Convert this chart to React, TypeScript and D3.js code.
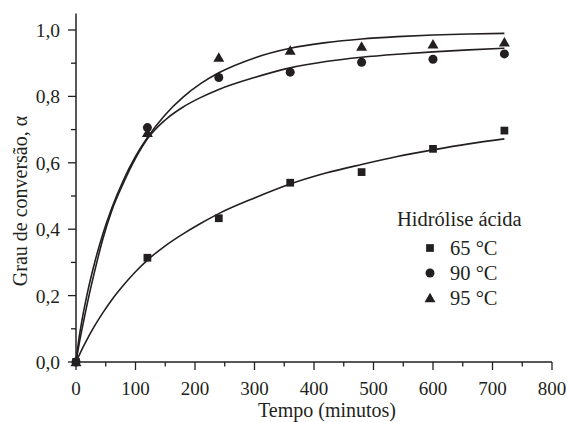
import React from "react";
import * as d3 from "d3";

// measured data points
const times = [0, 120, 240, 360, 480, 600, 720];
const alpha65 = [0, 0.314, 0.433, 0.54, 0.572, 0.642, 0.697];
const alpha90 = [0, 0.706, 0.857, 0.873, 0.903, 0.912, 0.928];
const alpha95 = [0, 0.69, 0.917, 0.938, 0.95, 0.957, 0.963];

// fitted curves
const curveT = [0, 5, 10, 20, 30, 45, 60, 80, 100, 120, 150, 180, 210, 240, 300, 360, 420, 480, 540, 600, 660, 720];
const fit65 = [0, 0.019, 0.038, 0.073, 0.105, 0.148, 0.187, 0.232, 0.272, 0.307, 0.35, 0.386, 0.418, 0.447, 0.494, 0.536, 0.569, 0.595, 0.619, 0.639, 0.657, 0.672];
const fit90 = [0, 0.052, 0.098, 0.185, 0.263, 0.37, 0.455, 0.54, 0.613, 0.672, 0.729, 0.768, 0.797, 0.821, 0.857, 0.886, 0.905, 0.918, 0.927, 0.934, 0.94, 0.945];
const fit95 = [0, 0.071, 0.125, 0.215, 0.29, 0.385, 0.463, 0.549, 0.619, 0.676, 0.745, 0.798, 0.839, 0.871, 0.916, 0.945, 0.962, 0.973, 0.98, 0.985, 0.988, 0.99];

const xTicks = [0, 100, 200, 300, 400, 500, 600, 700, 800];
const xMinor = [50, 150, 250, 350, 450, 550, 650, 750];
const yTicks = [0, 0.2, 0.4, 0.6, 0.8, 1.0];
const yMinor = [0.1, 0.3, 0.5, 0.7, 0.9];
const legendTitle = "Hidrólise ácida";
const legendLabels = ["65 °C", "90 °C", "95 °C"];

const INK = "#231f20";
const FONT = "'Liberation Serif', 'Times New Roman', serif";

export default function App() {
  const W = 571, H = 422;
  const x = d3.scaleLinear().domain([0, 800]).range([76, 552]);
  const y = d3.scaleLinear().domain([0, 1]).range([362, 30]);
  const yTop = y(1.05);

  const line = d3
    .line<[number, number]>()
    .x((d) => x(d[0]))
    .y((d) => y(d[1]))
    .curve(d3.curveMonotoneX);

  const fits = [fit65, fit90, fit95];
  const series = [alpha65, alpha90, alpha95];
  const sq = d3.symbol().type(d3.symbolSquare).size(60)() as string;
  const ci = d3.symbol().type(d3.symbolCircle).size(64)() as string;
  const tr = d3.symbol().type(d3.symbolTriangle).size(52)() as string;
  const symbols = [sq, ci, tr];

  const fmt = (v: number) => v.toFixed(1).replace(".", ",");

  return (
    <svg
      width={W}
      height={H}
      style={{ position: "absolute", left: 0, top: 0, background: "#fff" }}
      fontFamily={FONT}
    >
      <rect width={W} height={H} fill="#fff" />
      {/* axes */}
      <line x1={x(0)} x2={x(800)} y1={y(0)} y2={y(0)} stroke={INK} strokeWidth={1.5} />
      <line x1={x(0)} x2={x(0)} y1={y(0)} y2={yTop} stroke={INK} strokeWidth={1.5} />
      {xTicks.map((t) => (
        <g key={"xt" + t}>
          <line x1={x(t)} x2={x(t)} y1={y(0)} y2={y(0) + 8} stroke={INK} strokeWidth={1.3} />
          <text x={x(t)} y={394.5} textAnchor="middle" fontSize={19} fill={INK}>
            {t}
          </text>
        </g>
      ))}
      {xMinor.map((t) => (
        <line key={"xm" + t} x1={x(t)} x2={x(t)} y1={y(0)} y2={y(0) + 4.5} stroke={INK} strokeWidth={1.3} />
      ))}
      {yTicks.map((v) => (
        <g key={"yt" + v}>
          <line x1={x(0) - 8} x2={x(0)} y1={y(v)} y2={y(v)} stroke={INK} strokeWidth={1.3} />
          <text x={60} y={y(v) + 7} textAnchor="end" fontSize={19.5} fill={INK}>
            {fmt(v)}
          </text>
        </g>
      ))}
      {yMinor.map((v) => (
        <line key={"ym" + v} x1={x(0) - 5} x2={x(0)} y1={y(v)} y2={y(v)} stroke={INK} strokeWidth={1.3} />
      ))}
      <text x={327} y={416.5} textAnchor="middle" fontSize={20} fill={INK}>
        Tempo (minutos)
      </text>
      <text
        transform={`translate(27, 201) rotate(-90)`}
        textAnchor="middle"
        fontSize={20}
        fill={INK}
      >
        Grau de conversão, α
      </text>

      {/* fitted curves */}
      {fits.map((f, i) => (
        <path
          key={"f" + i}
          d={line(curveT.map((t, j) => [t, f[j]] as [number, number])) as string}
          fill="none"
          stroke={INK}
          strokeWidth={1.6}
        />
      ))}

      {/* markers */}
      {[2, 1, 0].map((si) =>
        times.map((t, j) => (
          <path
            key={"m" + si + "-" + j}
            d={symbols[si]}
            transform={`translate(${x(t)}, ${y(series[si][j]) + (si === 2 ? 1 : 0)})`}
            fill={INK}
          />
        ))
      )}

      {/* legend */}
      <text x={397} y={226} fontSize={20.5} fill={INK}>
        {legendTitle}
      </text>
      {legendLabels.map((lab, i) => (
        <g key={"lg" + i}>
          <path d={symbols[i]} transform={`translate(430, ${248 + i * 25 + (i === 2 ? 1 : 0)})`} fill={INK} />
          <text x={450} y={255 + i * 25} fontSize={20.5} fill={INK}>
            {lab}
          </text>
        </g>
      ))}
    </svg>
  );
}
